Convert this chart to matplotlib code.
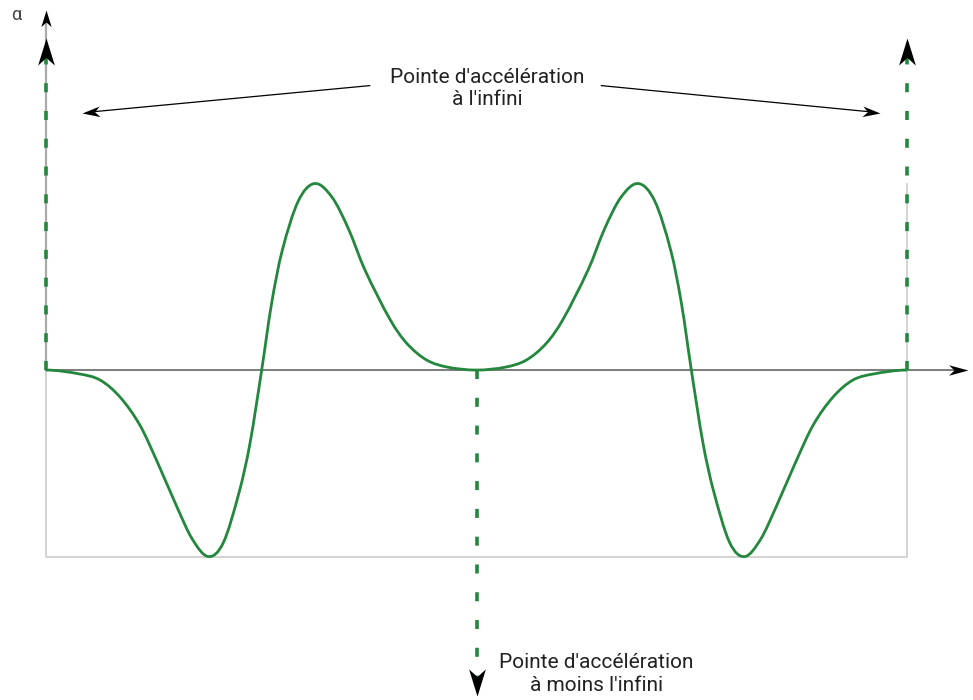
import numpy as np
import matplotlib
matplotlib.use("Agg")
import matplotlib.pyplot as plt
from matplotlib.path import Path
from matplotlib.patches import PathPatch

plt.rcParams['font.family'] = ['Roboto', 'DejaVu Sans']
plt.rcParams['lines.scale_dashes'] = False

# acceleration curve, key points (x: 0..10, y: -1..1), first half
x_left = [0.00, 0.39, 0.63, 0.86, 1.09, 1.29, 1.52, 1.70, 1.885, 2.06,
          2.25, 2.37, 2.505, 2.62, 2.74, 2.93, 3.12, 3.32, 3.51, 3.70,
          4.00, 4.19, 4.42, 4.66, 5.00]
y_left = [0.000, -0.021, -0.054, -0.145, -0.295, -0.490, -0.733, -0.907, -1.000, -0.925,
          -0.643, -0.391, 0.000, 0.357, 0.634, 0.906, 1.000, 0.928, 0.760, 0.541,
          0.268, 0.143, 0.054, 0.016, 0.000]

# second half
x_right = [5.34, 5.58, 5.81, 6.00, 6.30, 6.49, 6.68, 6.88, 7.07, 7.26,
           7.38, 7.495, 7.63, 7.75, 7.94, 8.115, 8.30, 8.48, 8.71, 8.91,
           9.14, 9.37, 9.61, 10.00]
y_right = [0.016, 0.054, 0.143, 0.268, 0.541, 0.760, 0.928, 1.000, 0.906, 0.634,
           0.357, 0.000, -0.391, -0.643, -0.925, -1.000, -0.907, -0.733, -0.490, -0.295,
           -0.145, -0.054, -0.021, 0.000]

# spikes to +/- infinity
spike_x = [0.0, 5.0, 10.0]
spike_tip = [1.78, -1.75, 1.78]

label_top = "Pointe d'accélération\nà l'infini"
label_bottom = "Pointe d'accélération\nà moins l'infini"

green = '#23873d'
text_col = '#222222'

fig = plt.figure(figsize=(9.73, 7.0), dpi=100)
ax = fig.add_axes([0, 0, 1, 1])
ax.set_xlim(-0.534, 10.766)
ax.set_ylim(-1.769, 1.984)
ax.axis('off')


def smooth_path(xs, ys):
    # cubic Hermite segments with central-difference slopes, as Bezier curves
    xs = np.asarray(xs, float)
    ys = np.asarray(ys, float)
    h = np.diff(xs)
    m = np.zeros_like(xs)
    m[1:-1] = (ys[2:] - ys[:-2]) / (xs[2:] - xs[:-2])
    verts = [(xs[0], ys[0])]
    codes = [Path.MOVETO]
    for i in range(len(h)):
        verts += [(xs[i] + h[i] / 3, ys[i] + m[i] * h[i] / 3),
                  (xs[i + 1] - h[i] / 3, ys[i + 1] - m[i + 1] * h[i] / 3),
                  (xs[i + 1], ys[i + 1])]
        codes += [Path.CURVE4] * 3
    return Path(verts, codes)


def head(direction, half_w=0.31, notch=0.72):
    # notched arrowhead marker, tip at the marker position
    dx, dy = direction
    n = np.hypot(dx, dy)
    dx, dy = dx / n, dy / n
    px, py = -dy, dx
    pts = [(0, 0),
           (-dx + half_w * px, -dy + half_w * py),
           (-notch * dx, -notch * dy),
           (-dx - half_w * px, -dy - half_w * py),
           (0, 0)]
    return Path(pts, [Path.MOVETO, Path.LINETO, Path.LINETO, Path.LINETO, Path.CLOSEPOLY])


def arrow_tip(x0, y0, x1, y1, size, half_w=0.31):
    a = ax.transData.transform((x0, y0))
    b = ax.transData.transform((x1, y1))
    ax.plot([x1], [y1], marker=head(b - a, half_w), markersize=size * 2,
            color='black', markeredgewidth=0, zorder=6)


# light frame
ax.plot([0, 0, 10, 10], [0, -1.0, -1.0, 1.0], color='#cccccc', lw=1.2, zorder=1)

# axes
ax.plot([0, 0], [0, 1.86], color='#aaaaaa', lw=1.6, zorder=1)
ax.plot([0, 10.62], [0, 0], color='#666666', lw=1.2, zorder=2)
arrow_tip(0, 0, 0, 1.93, 12)
arrow_tip(0, 0, 10.71, 0, 14, half_w=0.27)
ax.text(-0.35, 1.905, 'α', fontsize=13, color='#444444', ha='center', va='center')

# dashed spikes
for sx, st in zip(spike_x, spike_tip):
    end = st - 0.1 * np.sign(st)
    ax.plot([sx, sx], [0, end], color=green, lw=2.6,
            linestyle=(0, (6.5, 13.5)), zorder=3)
    arrow_tip(sx, 0, sx, st, 19.5)

# curve
x_curve = x_left + x_right
y_curve = y_left + y_right
ax.add_patch(PathPatch(smooth_path(x_curve, y_curve), facecolor='none',
                       edgecolor=green, lw=2.0, zorder=4))

# annotations
ax.text(5.12, 1.51, label_top, fontsize=15, color=text_col,
        ha='center', va='center', linespacing=1.15)
ax.plot([3.76, 0.55], [1.525, 1.385], color='black', lw=0.9)
arrow_tip(3.76, 1.525, 0.42, 1.38, 13, half_w=0.3)
ax.plot([6.45, 9.56], [1.525, 1.385], color='black', lw=0.9)
arrow_tip(6.45, 1.525, 9.69, 1.38, 13, half_w=0.3)

ax.text(6.39, -1.63, label_bottom, fontsize=15, color=text_col,
        ha='center', va='center', linespacing=1.25)

fig.savefig('out.png', dpi=100)
